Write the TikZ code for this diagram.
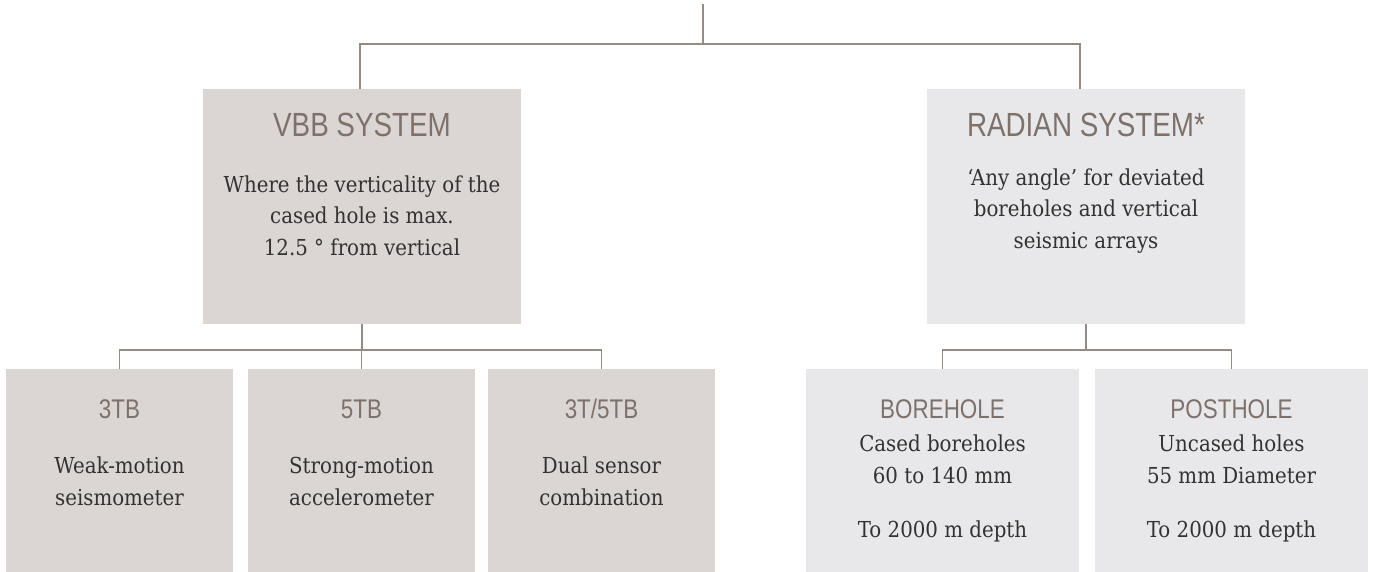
\documentclass[tikz,border=0pt]{standalone}
\usepackage{fontspec}
\newfontfamily\headfont[FakeStretch=0.83]{Liberation Sans}
\newfontfamily\bodyfont[FakeStretch=0.9]{DejaVu Serif}
\definecolor{LineGray}{HTML}{968B85}
\definecolor{WarmFill}{HTML}{DBD6D3}
\definecolor{CoolFill}{HTML}{E8E8EA}
\definecolor{HeadGray}{HTML}{7D716B}
\definecolor{BodyGray}{HTML}{333131}

\begin{document}
\begin{tikzpicture}
    [
        x=1pt, y=-1pt,
        VbbBox/.style={rectangle, fill=WarmFill, inner sep=0pt},
        RadBox/.style={rectangle, fill=CoolFill, inner sep=0pt},
        Head/.style={anchor=base, inner sep=0pt, text=HeadGray, font={\headfont\fontsize{33.5pt}{40pt}\selectfont}},
        SubHead/.style={anchor=base, inner sep=0pt, text=HeadGray, font={\headfont\fontsize{27pt}{32pt}\selectfont}},
        Body/.style={anchor=base, inner sep=0pt, align=center, text=BodyGray, font={\bodyfont\fontsize{22pt}{31.5pt}\selectfont}},
        Link/.style={draw=LineGray, line width=1.5pt}
    ]
    \useasboundingbox (0,0) rectangle (1375,572);

    % systems (text nodes sit on the baseline of their last line)
    \node[VbbBox, minimum width=318pt, minimum height=235pt] (Vbb) at (362,206.5) {};
    \node[RadBox, minimum width=318pt, minimum height=235pt] (Radian) at (1086,206.5) {};
    \node[Head] (VbbTitle) at (362,137) {VBB SYSTEM};
    \node[Body] (VbbText) at (362,255) {Where the verticality of the\\cased hole is max.\\12.5 ° from vertical};
    \node[Head] (RadianTitle) at (1086,137) {RADIAN SYSTEM*};
    \node[Body] (RadianText) at (1086,248) {‘Any angle’ for deviated\\boreholes and vertical\\seismic arrays};

    % sensors
    \node[VbbBox, minimum width=227pt, minimum height=203pt] (TB3) at (119.5,470.5) {};
    \node[VbbBox, minimum width=227pt, minimum height=203pt] (TB5) at (361.5,470.5) {};
    \node[VbbBox, minimum width=227pt, minimum height=203pt] (TB35) at (601.5,470.5) {};
    \node[RadBox, minimum width=273pt, minimum height=203pt] (Borehole) at (942.5,470.5) {};
    \node[RadBox, minimum width=273pt, minimum height=203pt] (Posthole) at (1231.5,470.5) {};

    \node[SubHead] (TB3Title) at (119.5,418) {3TB};
    \node[Body] (TB3Text) at (119.5,505) {Weak-motion\\seismometer};
    \node[SubHead] (TB5Title) at (361.5,418) {5TB};
    \node[Body] (TB5Text) at (361.5,505) {Strong-motion\\accelerometer};
    \node[SubHead] (TB35Title) at (601.5,418) {3T/5TB};
    \node[Body] (TB35Text) at (601.5,505) {Dual sensor\\combination};
    \node[SubHead] (BoreholeTitle) at (942.5,418) {BOREHOLE};
    \node[Body] (BoreholeText) at (942.5,537) {Cased boreholes\\60 to 140 mm\\[22.5pt]To 2000 m depth};
    \node[SubHead] (PostholeTitle) at (1231.5,418) {POSTHOLE};
    \node[Body] (PostholeText) at (1231.5,537) {Uncased holes\\55 mm Diameter\\[22.5pt]To 2000 m depth};

    % connectors
    \coordinate (Root) at (703,4);
    \coordinate (Split) at (703,44);
    \coordinate (VbbFork) at (362,350);
    \coordinate (RadianFork) at (1086,350);
    \draw[Link] (Root) -- (Split);
    \draw[Link] ([xshift=-2pt]Vbb.north) |- (Split) -| ([xshift=-6pt]Radian.north);
    \draw[Link] (Vbb.south) -- (VbbFork);
    \draw[Link] (TB3.north) |- (VbbFork) -| (TB35.north);
    \draw[Link] (TB5.north) |- (VbbFork);
    \draw[Link] (Radian.south) -- (RadianFork);
    \draw[Link] (Borehole.north) |- (RadianFork) -| (Posthole.north);
\end{tikzpicture}
\end{document}
